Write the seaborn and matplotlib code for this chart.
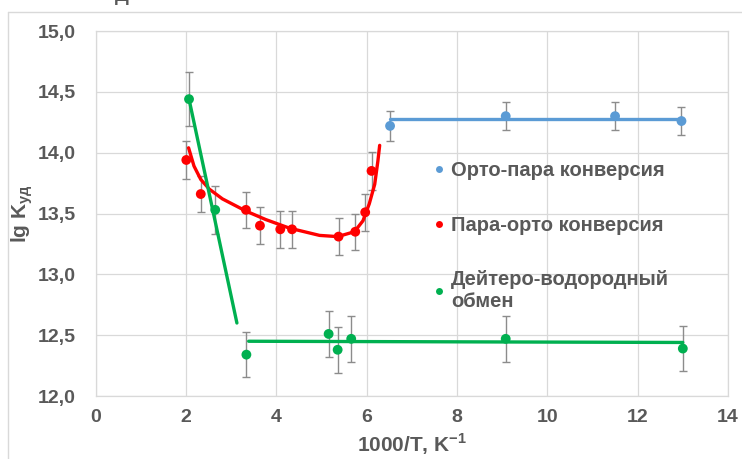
import numpy as np
import pandas as pd
import matplotlib
matplotlib.use("Agg")
import matplotlib.pyplot as plt
from matplotlib.lines import Line2D
import seaborn as sns

# ---- data ----
ortho_x = [6.52, 9.08, 11.5, 12.97]
ortho_y = [14.22, 14.30, 14.30, 14.26]
ortho_err = [0.12, 0.115, 0.115, 0.115]
ortho_fit_x = [6.52, 12.97]
ortho_fit_y = [14.28, 14.28]

para_x = [2.01, 2.33, 3.33, 3.64, 4.09, 4.35, 5.38, 5.75, 5.97, 6.11]
para_y = [13.94, 13.66, 13.53, 13.40, 13.37, 13.37, 13.31, 13.35, 13.51, 13.85]
para_err = [0.155, 0.15, 0.15, 0.15, 0.15, 0.15, 0.15, 0.15, 0.15, 0.155]
para_fit_x = [2.06, 2.18, 2.33, 2.52, 2.81, 3.33, 3.77, 4.29, 4.96, 5.36,
              5.73, 5.92, 6.06, 6.18, 6.25, 6.29]
para_fit_y = [14.04, 13.89, 13.78, 13.70, 13.62, 13.52, 13.45, 13.38, 13.32, 13.31,
              13.35, 13.44, 13.58, 13.74, 13.93, 14.06]

deut_x = [2.07, 2.65, 3.34, 5.16, 5.36, 5.66, 9.08, 13.0]
deut_y = [14.44, 13.53, 12.34, 12.51, 12.38, 12.47, 12.47, 12.39]
deut_err = [0.22, 0.2, 0.185, 0.19, 0.19, 0.19, 0.19, 0.185]
deut_fit1_x = [2.07, 3.13]
deut_fit1_y = [14.44, 12.60]
deut_fit2_x = [3.39, 13.0]
deut_fit2_y = [12.45, 12.44]

labels = ["Орто-пара конверсия", "Пара-орто конверсия", "Дейтеро-водородный\nобмен"]
x_ticks = [0, 2, 4, 6, 8, 10, 12, 14]
y_ticks = [12.0, 12.5, 13.0, 13.5, 14.0, 14.5, 15.0]
y_tick_labels = ["12,0", "12,5", "13,0", "13,5", "14,0", "14,5", "15,0"]

# ---- style ----
sns.set_theme(style="white")
plt.rcParams['font.family'] = ['Liberation Sans', 'DejaVu Sans']

BLUE = "#5B9BD5"
RED = "#FF0000"
GREEN = "#00B050"
TXT = "#595959"
GRID = "#d9d9d9"
ECOL = "#8c8c8c"

fig = plt.figure(figsize=(7.42, 4.59), dpi=100)
ax = fig.add_axes([95.5 / 742, 1 - 396 / 459, (728 - 95.5) / 742, (396 - 31) / 459])

# fitted lines
for fx, fy, c in [(ortho_fit_x, ortho_fit_y, BLUE), (para_fit_x, para_fit_y, RED),
                  (deut_fit1_x, deut_fit1_y, GREEN), (deut_fit2_x, deut_fit2_y, GREEN)]:
    sns.lineplot(x=fx, y=fy, color=c, lw=2.4, ax=ax, zorder=3, sort=False)

# error bars + points
for xs, ys, es, c in [(ortho_x, ortho_y, ortho_err, BLUE), (para_x, para_y, para_err, RED),
                      (deut_x, deut_y, deut_err, GREEN)]:
    ax.errorbar(xs, ys, yerr=es, fmt='none', ecolor=ECOL, elinewidth=1.0,
                capsize=3, capthick=1.0, zorder=2)
    sns.scatterplot(x=xs, y=ys, color=c, s=50, edgecolor='none', ax=ax, zorder=4)

ax.set_xlim(0, 14)
ax.set_ylim(12, 15)
ax.set_xticks(x_ticks)
ax.set_xticklabels([str(t) for t in x_ticks])
ax.set_yticks(y_ticks)
ax.set_yticklabels(y_tick_labels)
ax.grid(True, color=GRID, lw=0.9)
ax.set_axisbelow(True)
for s in ax.spines.values():
    s.set_color(GRID)
    s.set_linewidth(0.9)
ax.tick_params(axis='both', length=0, labelsize=14, labelcolor=TXT)
ax.tick_params(axis='y', pad=14)
ax.tick_params(axis='x', pad=9)
for lab in ax.get_xticklabels() + ax.get_yticklabels():
    lab.set_fontweight('bold')

ax.set_xlabel("1000/T, K$^{\\mathregular{-1}}$", fontsize=15, fontweight='bold',
              color=TXT, labelpad=4)
ax.set_ylabel("lg K$_{\\mathregular{уд}}$", fontsize=15, fontweight='bold',
              color=TXT, labelpad=2)

handles = [Line2D([], [], ls='none', marker='o', markersize=5, color=c, markeredgewidth=0)
           for c in (BLUE, RED, GREEN)]
leg = ax.legend(handles, labels, loc='upper left',
                bbox_to_anchor=(424 / 742, 1 - 151 / 459), bbox_transform=fig.transFigure,
                frameon=False, fontsize=14.5, labelcolor=TXT, handlelength=0.5,
                handletextpad=0.35, labelspacing=1.77, borderpad=0)
for t in leg.get_texts():
    t.set_fontweight('bold')

# outer chart-area frame
fig.add_artist(Line2D([8 / 742, 1.0], [1 - 12 / 459, 1 - 12 / 459],
                      transform=fig.transFigure, color=GRID, lw=1))
fig.add_artist(Line2D([8 / 742, 8 / 742], [0, 1 - 12 / 459],
                      transform=fig.transFigure, color=GRID, lw=1))
# cut-off title glyph at the top
fig.text(122 / 742, 1 - 1 / 459, "Д", fontsize=14, fontweight='bold', color=TXT,
         ha='center', va='baseline')

fig.savefig("out.png", dpi=100)
